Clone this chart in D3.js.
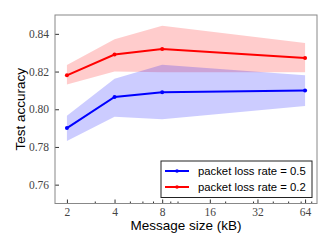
<!DOCTYPE html>
<html>
<head>
<meta charset="utf-8">
<script src="https://cdn.jsdelivr.net/npm/d3@7"></script>
<style>
  body { margin: 0; background: #fff; }
  svg { display: block; }
</style>
</head>
<body>
<svg id="chart" width="332" height="249"></svg>
<script>
// message sizes (kB) that were measured
const sizes = [2, 4, 8, 64];
// packet loss rate = 0.5
const loss05Mean = [0.790, 0.8065, 0.809, 0.810];
const loss05Upper = [0.7965, 0.8162, 0.8236, 0.818];
const loss05Lower = [0.7831, 0.796, 0.7947, 0.8017];
// packet loss rate = 0.2
const loss02Mean = [0.818, 0.829, 0.832, 0.8272];
const loss02Upper = [0.8235, 0.8372, 0.8443, 0.8351];
const loss02Lower = [0.8131, 0.82, 0.8196, 0.8196];

const xTicks = [2, 4, 8, 16, 32, 64];
const xMinorTicks = [3, 5, 6, 7, 9, 10, 20, 30, 40, 50, 60, 70];
const yTicks = [0.76, 0.78, 0.80, 0.82, 0.84];

const series = [
  {name: 'packet loss rate = 0.5', color: '#0000ff', mean: loss05Mean, lo: loss05Lower, hi: loss05Upper},
  {name: 'packet loss rate = 0.2', color: '#ff0000', mean: loss02Mean, lo: loss02Lower, hi: loss02Upper}
];

const svg = d3.select('#chart');
const margin = {top: 15, right: 15, bottom: 45.5, left: 55};
const width = +svg.attr('width') - margin.left - margin.right;
const height = +svg.attr('height') - margin.top - margin.bottom;

const g = svg.append('g').attr('transform', `translate(${margin.left},${margin.top})`);

const xScale = d3.scaleLog().base(2).domain([Math.pow(2, 0.75), Math.pow(2, 6.25)]).range([0, width]);
const yScale = d3.scaleLinear().domain([0.75, 0.85]).range([height, 0]);

// shaded bands
const area = d3.area()
  .x(d => xScale(d.x))
  .y0(d => yScale(d.lo))
  .y1(d => yScale(d.hi));
const line = d3.line()
  .x(d => xScale(d.x))
  .y(d => yScale(d.y));

const rows = s => sizes.map((x, i) => ({x: x, y: s.mean[i], lo: s.lo[i], hi: s.hi[i]}));

series.slice().reverse().forEach(s => {
  g.append('path')
    .datum(rows(s))
    .attr('d', area)
    .attr('fill', s.color)
    .attr('fill-opacity', 0.2);
});

series.slice().reverse().forEach(s => {
  g.append('path')
    .datum(rows(s))
    .attr('d', line)
    .attr('fill', 'none')
    .attr('stroke', s.color)
    .attr('stroke-width', 2);
  g.selectAll(null).data(rows(s)).enter().append('circle')
    .attr('cx', d => xScale(d.x))
    .attr('cy', d => yScale(d.y))
    .attr('r', 2)
    .attr('fill', s.color);
});

// axes (ticks pointing inward)
const xAxis = d3.axisBottom(xScale).tickValues(xTicks).tickFormat(d3.format('d')).tickSizeInner(-4).tickSizeOuter(0).tickPadding(4);
g.append('g').attr('transform', `translate(0,${height})`).call(xAxis);
const xMinor = d3.axisBottom(xScale).tickValues(xMinorTicks).tickFormat('').tickSizeInner(-2).tickSizeOuter(0);
g.append('g').attr('transform', `translate(0,${height})`).call(xMinor);

const yAxis = d3.axisLeft(yScale).tickValues(yTicks).tickFormat(d3.format('.2f')).tickSizeInner(-4).tickSizeOuter(0).tickPadding(6);
g.append('g').call(yAxis);

g.selectAll('.domain').remove();
g.selectAll('.tick line').attr('stroke', '#333');
g.selectAll('.tick text')
  .attr('font-family', '"Liberation Serif", serif')
  .attr('font-size', '11.5px')
  .attr('fill', '#444');

// frame
g.append('rect')
  .attr('width', width)
  .attr('height', height)
  .attr('fill', 'none')
  .attr('stroke', '#888')
  .attr('stroke-width', 1);

// axis titles
svg.append('text')
  .attr('x', margin.left + width / 2)
  .attr('y', 230)
  .attr('text-anchor', 'middle')
  .attr('font-family', '"Liberation Sans", Arial, sans-serif')
  .attr('font-size', '13.5px')
  .attr('fill', '#000')
  .text('Message size (kB)');

svg.append('text')
  .attr('transform', `translate(25,${margin.top + height / 2}) rotate(-90)`)
  .attr('text-anchor', 'middle')
  .attr('font-family', '"Liberation Sans", Arial, sans-serif')
  .attr('font-size', '13.5px')
  .attr('fill', '#000')
  .text('Test accuracy');

// legend
const legend = svg.append('g').attr('transform', 'translate(161,161)');
legend.append('rect')
  .attr('width', 151)
  .attr('height', 36.5)
  .attr('fill', '#fff')
  .attr('stroke', '#222')
  .attr('stroke-width', 1);
series.forEach((s, i) => {
  const row = legend.append('g').attr('transform', `translate(0,${10 + i * 16})`);
  row.append('line')
    .attr('x1', 4).attr('x2', 28)
    .attr('stroke', s.color).attr('stroke-width', 2);
  row.append('circle').attr('cx', 16).attr('r', 1.8).attr('fill', s.color);
  row.append('text')
    .attr('x', 37)
    .attr('y', 4)
    .attr('font-family', '"Liberation Sans", Arial, sans-serif')
    .attr('font-size', '11.3px')
    .attr('fill', '#000')
    .text(s.name);
});
</script>
</body>
</html>
